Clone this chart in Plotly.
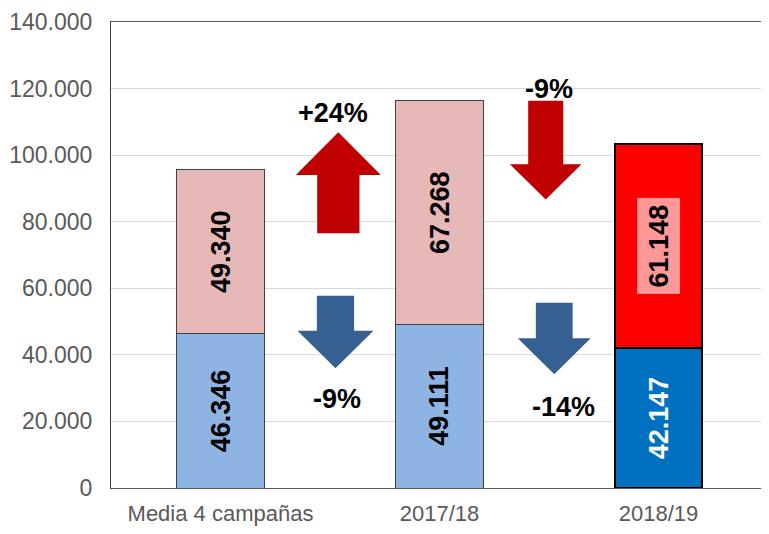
import plotly.graph_objects as go

categorias = ["Media 4 campañas", "2017/18", "2018/19"]
inferior = [46346, 49111, 42147]
superior = [49340, 67268, 61148]
variaciones_sup = ["+24%", "-9%"]
variaciones_inf = ["-9%", "-14%"]

col_inf = ["#8DB4E2", "#8DB4E2", "#0070C0"]
col_sup = ["#E6B8B7", "#E6B8B7", "#FF0000"]
borde_col = ["#404040", "#404040", "#000000"]
borde_w = [1, 1, 2]
txt_col = ["black", "black", "white"]
fuente = "Liberation Sans, Arial, sans-serif"

x = list(range(len(categorias)))


def miles(v):
    return f"{v:,}".replace(",", ".")


fig = go.Figure()
fig.add_trace(go.Bar(x=x, y=inferior, marker=dict(color=col_inf, line=dict(color=borde_col, width=borde_w)),
                     width=0.4, hoverinfo="skip"))
fig.add_trace(go.Bar(x=x, y=superior, marker=dict(color=col_sup, line=dict(color=borde_col, width=borde_w)),
                     width=0.4, hoverinfo="skip"))

# etiquetas de valor, giradas
for i in x:
    fig.add_annotation(x=i, y=inferior[i] / 2, text="<b>" + miles(inferior[i]) + "</b>", textangle=-90,
                       showarrow=False, font=dict(size=27, color=txt_col[i], family=fuente))
    fig.add_annotation(x=i, y=inferior[i] + superior[i] / 2, text="<b>" + miles(superior[i]) + "</b>",
                       textangle=-90, showarrow=False, font=dict(size=27, color="black", family=fuente),
                       bgcolor="#FF9999" if i == 2 else None, borderpad=6 if i == 2 else 1)


def flecha(xc, y0, y1, yc, ancho, cabeza, color):
    # y0 = extremo del cuerpo, yc = base de la cabeza, y1 = punta
    a, c = ancho / 2, cabeza / 2
    path = (f"M {xc-a},{y0} L {xc+a},{y0} L {xc+a},{yc} L {xc+c},{yc} L {xc},{y1} "
            f"L {xc-c},{yc} L {xc-a},{yc} Z")
    fig.add_shape(type="path", path=path, xref="x", yref="y", fillcolor=color, line=dict(width=0))


flecha(0.538, 76500, 106850, 94000, 0.193, 0.388, "#C00000")
flecha(1.485, 116350, 86700, 97300, 0.160, 0.327, "#C00000")
flecha(0.525, 57770, 35960, 47250, 0.170, 0.347, "#376092")
flecha(1.524, 55660, 34150, 44970, 0.168, 0.333, "#376092")

pct_pos = [(0.514, 112600), (1.502, 120000)]
for (px, py), t in zip(pct_pos, variaciones_sup):
    fig.add_annotation(x=px, y=py, text="<b>" + t + "</b>", showarrow=False,
                       font=dict(size=27, color="black", family=fuente))
pct_pos = [(0.532, 26700), (1.564, 24300)]
for (px, py), t in zip(pct_pos, variaciones_inf):
    fig.add_annotation(x=px, y=py, text="<b>" + t + "</b>", showarrow=False,
                       font=dict(size=27, color="black", family=fuente))

# la página añade 8 px de margen al cuerpo
fig.update_layout(
    barmode="stack",
    width=761, height=526,
    margin=dict(l=103, r=1, t=14, b=46),
    paper_bgcolor="white", plot_bgcolor="white",
    showlegend=False,
    separators=",.",
    font=dict(family=fuente, color="#595959", size=22),
)
fig.update_xaxes(range=[-0.5, 2.5], tickvals=x, ticktext=categorias, showgrid=False, automargin=False,
                 showline=True, linecolor="#595959", linewidth=1, mirror=True, ticks="",
                 ticklabelstandoff=6, tickfont=dict(size=22, color="#595959"))
fig.update_yaxes(range=[0, 140000], dtick=20000, tickformat=",d", showgrid=True, gridcolor="#D9D9D9",
                 showline=True, linecolor="#404040", linewidth=1, mirror=True, ticks="", automargin=False,
                 ticklabelstandoff=13, zeroline=False, tickfont=dict(size=23, color="#595959"))

fig.write_html("out.html")
